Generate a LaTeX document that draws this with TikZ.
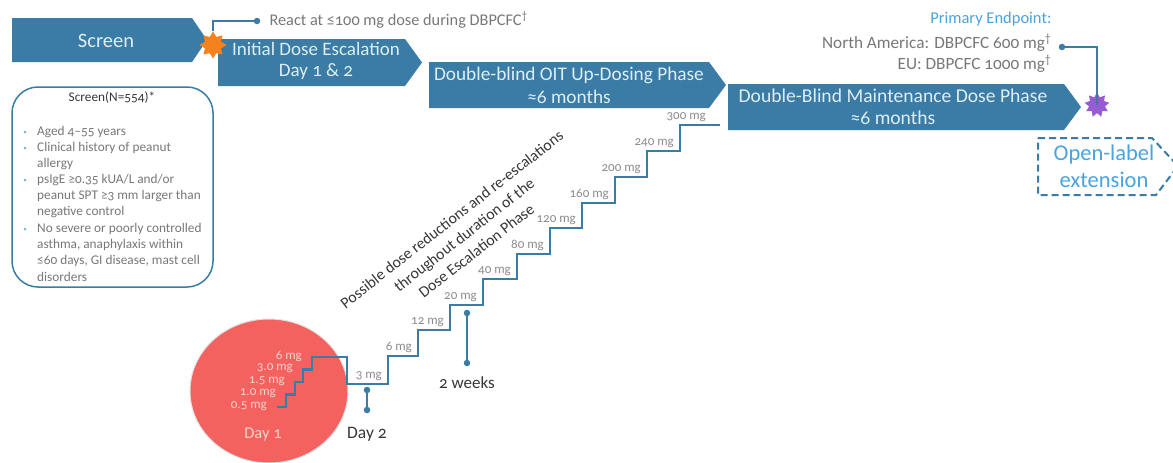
\documentclass[tikz,border=0pt]{standalone}
\usepackage{fontspec}
\setmainfont{Carlito}[Numbers=OldStyle]
\usetikzlibrary{shapes.geometric,positioning}

\definecolor{phaseblue}{RGB}{58,124,165}
\definecolor{phasetext}{RGB}{222,238,248}
\definecolor{lightblue}{RGB}{74,163,223}
\definecolor{bulletblue}{RGB}{120,185,225}
\definecolor{daycoral}{RGB}{243,98,94}
\definecolor{daypink}{RGB}{252,210,205}
\definecolor{starorange}{RGB}{246,130,30}
\definecolor{starpurple}{RGB}{150,92,212}
\definecolor{dosegray}{RGB}{140,140,140}
\definecolor{notegray}{RGB}{120,120,120}
\definecolor{darktext}{RGB}{55,55,55}

\tikzset{
  phase/.style={fill=phaseblue},
  phaselabel/.style={text=phasetext, align=center, inner sep=0pt},
  dot/.style={circle, fill=phaseblue, inner sep=0pt, minimum size=6.5pt},
  link/.style={draw=phaseblue, line width=1.6pt},
  stair/.style={draw=phaseblue, line width=2.6pt},
  dose/.style={text=dosegray, font=\fontsize{13}{14}\selectfont, anchor=south east, inner sep=1pt},
  daydose/.style={text=daypink, font=\fontsize{13}{14}\selectfont, anchor=east, inner sep=1pt},
  burst/.style={star, star point ratio=1.55, inner sep=0pt},
  item/.style={text=notegray, font=\fontsize{13.3}{16.2}\selectfont, align=left, anchor=north west, inner sep=0pt},
  bullet/.style={circle, fill=bulletblue, inner sep=0pt, minimum size=3pt}
}

\begin{document}
\begin{tikzpicture}[x=1pt,y=-1pt]
  \fill[white] (0,0) rectangle (1173,463);
  \useasboundingbox (0,0) rectangle (1173,463);

  \fill[phase] (12,18) -- (192,18) -- (207,40) -- (192,62) -- (12,62) -- cycle;
  \fill[phase] (218,39) -- (405,39) -- (422,62.5) -- (405,86) -- (218,86) -- cycle;
  \fill[phase] (429,62) -- (709,62) -- (726,85) -- (709,108) -- (429,108) -- cycle;
  \fill[phase] (728,84) -- (1064,84) -- (1081,107) -- (1064,130) -- (728,130) -- cycle;
  \node[phaselabel, font=\fontsize{20.5}{22}\selectfont] (screen) at (106,41) {Screen};
  \node[phaselabel, font=\fontsize{19}{21.5}\selectfont] (initial) at (316,61) {Initial Dose Escalation\\Day 1 \& 2};
  \node[phaselabel, font=\fontsize{19.3}{23}\selectfont] (updosing) at (569,85) {Double-blind OIT Up-Dosing Phase\\≈6 months};
  \node[phaselabel, font=\fontsize{19.6}{22}\selectfont] (maintenance) at (893,107) {Double-Blind Maintenance Dose Phase\\≈6 months};

  \node[burst, star points=8, fill=starorange, minimum size=27pt] (reactstar) at (213,45) {};
  \node[dot] (reactdot) at (257,21) {};
  \draw[link] (reactstar.north) |- (reactdot);
  \node[anchor=west, text=notegray, font=\fontsize{16.3}{18}\selectfont] (react) at (266,20) {React at ≤100 mg dose during DBPCFC\textsuperscript{†}};

  \node[burst, star points=9, fill=starpurple, minimum size=25pt] (endstar) at (1097,105) {};
  \node[dot] (enddot) at (1062,47) {};
  \draw[link] (enddot) -| (endstar.center);
  \node[anchor=east, text=lightblue, font=\fontsize{16.5}{18}\selectfont] (primary) at (1055,19) {Primary Endpoint:};
  \node[anchor=east, text=notegray, font=\fontsize{17.2}{18}\selectfont] (namerica) at (1055,43) {North America: DBPCFC 600 mg\textsuperscript{†}};
  \node[anchor=east, text=notegray, font=\fontsize{17.2}{18}\selectfont] (europe) at (1055,64) {EU: DBPCFC 1000 mg\textsuperscript{†}};

  \draw[phaseblue, line width=2pt, dash pattern=on 7pt off 4pt] (1038,138) -- (1152,138) -- (1178,166) -- (1156,195) -- (1038,195) -- cycle;
  \node[text=lightblue, align=center, font=\fontsize{22.5}{27}\selectfont] (openlabel) at (1104,166) {Open-label\\extension};

  \draw[phaseblue, line width=1.5pt, rounded corners=26pt] (12,87) rectangle (213,287);
  \node[text=darktext, font=\fontsize{13.3}{15}\selectfont] (screenbox) at (112,98) {Screen(N=554)*};
  \node[bullet] at (25,132) {};
  \node[bullet] at (25,148) {};
  \node[bullet] at (25,180) {};
  \node[bullet] at (25,229) {};
  \node[item] (age) at (37,126) {Aged 4–55 years};
  \node[item] (history) at (37,142) {Clinical history of peanut\\allergy};
  \node[item] (sige) at (37,174) {psIgE ≥0.35 kUA/L and/or\\peanut SPT ≥3 mm larger than\\negative control};
  \node[item] (exclude) at (37,223) {No severe or poorly controlled\\asthma, anaphylaxis within\\≤60 days, GI disease, mast cell\\disorders};

  \fill[daycoral, draw=black!12, line width=1pt] (269,391) ellipse [x radius=79, y radius=72];
  \node[text=daypink, font=\fontsize{16.5}{18}\selectfont] (day1) at (263,435) {Day 1};

  \draw[stair] (277,407) -| (286,394.5) -| (295,382) -| (303,369.5) -| (312,357) -- (347,357) -- (347,384) -- (388,384)
    |- (418,356) |- (450,330) |- (483,305) |- (517,279) |- (550,254) |- (582,228) |- (615,203) |- (647,177) |- (680,151) |- (720,125);
  \node[daydose] (d05) at (268,406) {0.5 mg};
  \node[daydose] (d10) at (277,393.5) {1.0 mg};
  \node[daydose] (d15) at (286,381) {1.5 mg};
  \node[daydose] (d30) at (294,368.5) {3.0 mg};
  \node[daydose] (d6a) at (303,356) {6 mg};
  \node[dose] (d3) at (383,382) {3 mg};
  \node[dose] (d6) at (413,354) {6 mg};
  \node[dose] (d12) at (445,328) {12 mg};
  \node[dose] (d20) at (478,303) {20 mg};
  \node[dose] (d40) at (512,277) {40 mg};
  \node[dose] (d80) at (545,252) {80 mg};
  \node[dose] (d120) at (577,226) {120 mg};
  \node[dose] (d160) at (610,201) {160 mg};
  \node[dose] (d200) at (642,175) {200 mg};
  \node[dose] (d240) at (675,149) {240 mg};
  \node[dose] (d300) at (707,123) {300 mg};

  \node[dot] (day2top) at (367,390) {};
  \node[dot] (day2bot) at (367,410) {};
  \draw[link] (day2top) -- (day2bot);
  \node[text=darktext, font=\fontsize{17.5}{19}\selectfont, below=10pt of day2bot] (day2) {Day 2};
  \node[dot] (weektop) at (467,313) {};
  \node[dot] (weekbot) at (467,363) {};
  \draw[link] (weektop) -- (weekbot);
  \node[text=darktext, font=\fontsize{17}{19}\selectfont, below=7pt of weekbot] (weeks) {2 weeks};

  \node[text=darktext, align=center, rotate=38, font=\fontsize{15.8}{20}\selectfont] (reductions) at (464,235)
    {Possible dose reductions and re-escalations\\throughout duration of the\\Dose Escalation Phase};
\end{tikzpicture}
\end{document}
